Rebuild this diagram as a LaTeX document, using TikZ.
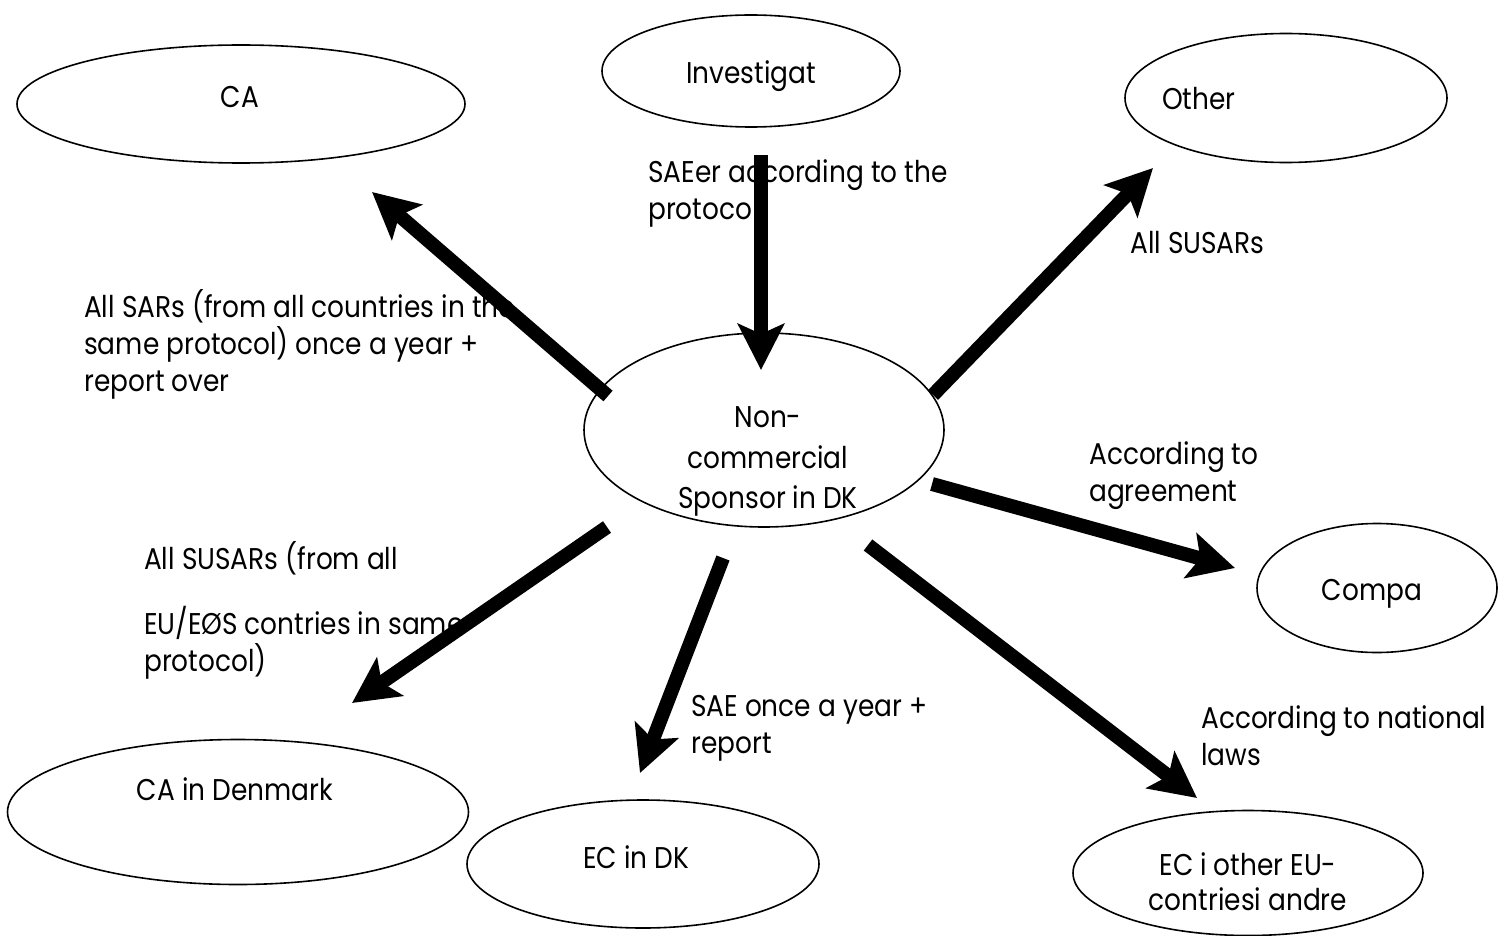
\documentclass[tikz,border=0pt]{standalone}
\usepackage{fontspec}
\setmainfont{Poppins}[FakeStretch=0.88]
\usetikzlibrary{arrows.meta,shapes.geometric}
\newcommand\figfont{\fontsize{30}{37}\selectfont}
\newcommand\firstline{\rule{0pt}{26pt}}

\begin{document}
\begin{tikzpicture}[x=1pt,y=-1pt,
  bubble/.style={draw, line width=1.6pt, ellipse, inner sep=0pt, outer sep=0pt},
  caption/.style={inner sep=0pt, font=\figfont},
  lbl/.style={anchor=north west, inner sep=0pt, align=left, font=\figfont},
  flow/.style={line width=14pt, line cap=butt,
    -{Stealth[length=46pt,width=46pt,inset=10pt]}}]

\fill[white] (0,0) rectangle (1511,936);
\useasboundingbox (0,0) rectangle (1511,936);

% parties
\node[bubble, minimum width=448pt, minimum height=118pt] (ca)    at (241,104) {};
\node[bubble, minimum width=298pt, minimum height=112pt] (inv)   at (751,71)  {};
\node[bubble, minimum width=322pt, minimum height=129pt] (oth)   at (1286,98) {};
\node[bubble, minimum width=360pt, minimum height=194pt] (spon)  at (764,430) {};
\node[bubble, minimum width=240pt, minimum height=129pt] (comp)  at (1377,588) {};
\node[bubble, minimum width=461pt, minimum height=145pt] (cadk)  at (238,812) {};
\node[bubble, minimum width=352pt, minimum height=128pt] (ecdk)  at (643,864) {};
\node[bubble, minimum width=350pt, minimum height=125pt] (eceu)  at (1248,873) {};

% names inside the bubbles
\node[caption, anchor=base]      (ca-t)   at (240,108)  {CA};
\node[caption, anchor=base]      (inv-t)  at (751,84)   {Investigat};
\node[caption, anchor=base west] (oth-t)  at (1162,110) {Other};
\node[caption, anchor=base]      (sp-1)   at (768,427)  {Non-};
\node[caption, anchor=base]      (sp-2)   at (768,468)  {commercial};
\node[caption, anchor=base]      (sp-3)   at (768,508)  {Sponsor in DK};
\node[caption, anchor=base]      (comp-t) at (1372,600) {Compa};
\node[caption, anchor=base]      (cadk-t) at (235,800)  {CA in Denmark};
\node[caption, anchor=base]      (ecdk-t) at (636,868)  {EC in DK};
\node[caption, anchor=base]      (eceu-1) at (1248,875) {EC i other EU-};
\node[caption, anchor=base]      (eceu-2) at (1248,910) {contriesi andre};

% reporting rules
\node[lbl] (l-inv)  at (648,156)  {\firstline SAEer according to the\\protocol};
\node[lbl] (l-oth)  at (1130,227) {\firstline All SUSARs};
\node[lbl] (l-ca)   at (84,289)   {\firstline All SARs (from all countries in the\\same protocol) once a year +\\report over};
\node[lbl] (l-comp) at (1089,438) {\firstline According to\\agreement};
\node[lbl] (l-cadk) at (144,541)  {\firstline All SUSARs (from all\\[28pt]EU/EØS contries in same\\protocol)};
\node[lbl] (l-ecdk) at (691,690)  {\firstline SAE once a year +\\report};
\node[lbl] (l-eceu) at (1201,702) {\firstline According to national\\laws};

% arrow ends
\coordinate (a1s) at (608,396);  \coordinate (a1e) at (372,192);
\coordinate (a2s) at (761,155);  \coordinate (a2e) at (761,370);
\coordinate (a3s) at (933,395);  \coordinate (a3e) at (1153,168);
\coordinate (a4s) at (932,484);  \coordinate (a4e) at (1235,568);
\coordinate (a5s) at (868,545);  \coordinate (a5e) at (1197,798);
\coordinate (a6s) at (723,558);  \coordinate (a6e) at (640,773);
\coordinate (a7s) at (607,527);  \coordinate (a7e) at (352,703);

\draw[flow] (a1s) -- (a1e);
\draw[flow] (a2s) -- (a2e);
\draw[flow] (a3s) -- (a3e);
\draw[flow] (a4s) -- (a4e);
\draw[flow] (a5s) -- (a5e);
\draw[flow] (a6s) -- (a6e);
\draw[flow] (a7s) -- (a7e);
\end{tikzpicture}
\end{document}
